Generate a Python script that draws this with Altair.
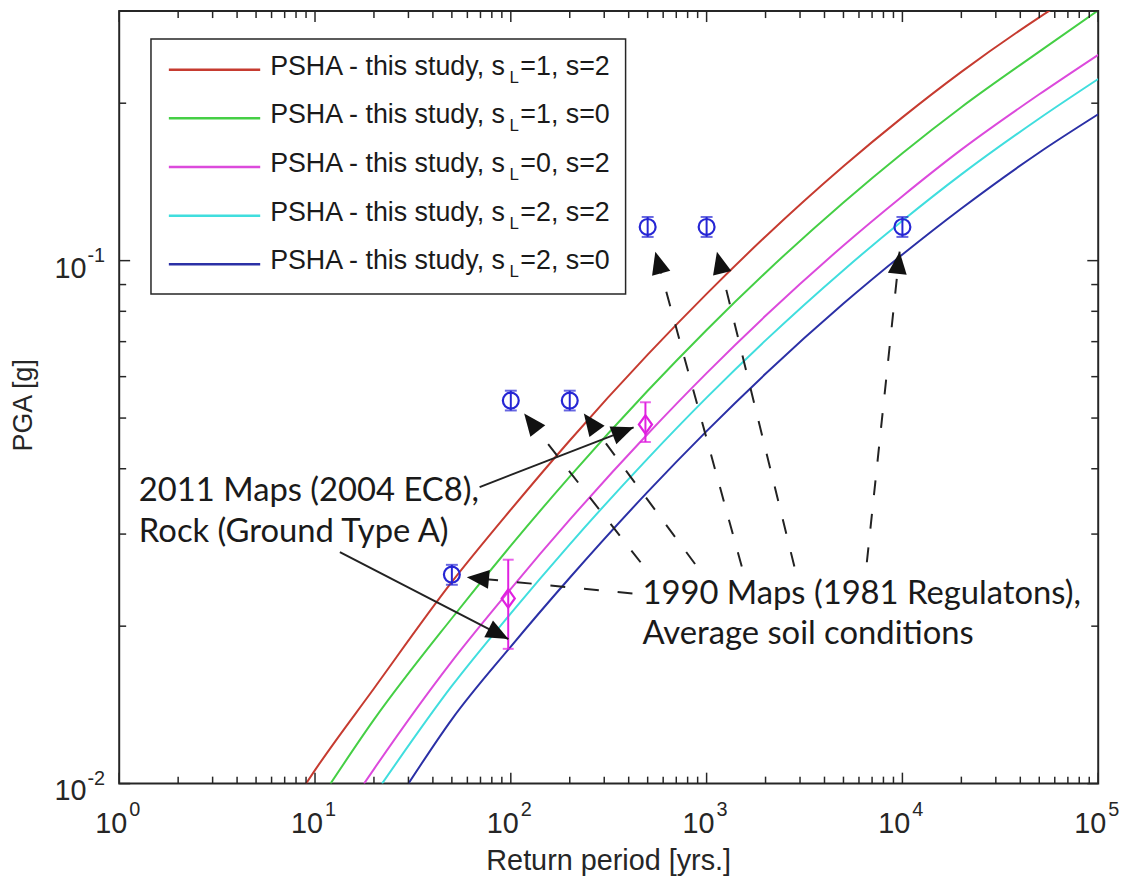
import altair as alt
import pandas as pd
import numpy as np

# ---------------- layout ----------------
W, H = 986, 778
X_DOM = [1, 1e5]
Y_DOM = [0.01, 0.3]
AX = "#262626"
BLUE_M = "#2626d4"
MAG_M = "#e020e0"
SANS = "Liberation Sans, Arial, Helvetica, sans-serif"

# ---------------- data ----------------
keys = ["r", "g", "m", "c", "b"]
colors = ["#c63b30", "#45cf45", "#dc4adc", "#40dede", "#2b30a6"]
leg_tail = ["=1, s=2", "=1, s=0", "=0, s=2", "=2, s=2", "=2, s=0"]

red_T = [9.0, 10, 20, 50, 100, 200, 500, 1000, 2000, 5000, 10000, 20000, 50000, 100000]
red_P = [0.0100, 0.01061, 0.0152, 0.0243, 0.0334, 0.0453, 0.0661, 0.0864, 0.1112, 0.1515, 0.1879, 0.2296, 0.2919, 0.3439]
green_T = [12.0, 20, 50, 100, 200, 500, 1000, 2000, 5000, 10000, 20000, 50000, 100000]
green_P = [0.0100, 0.01325, 0.02071, 0.02851, 0.03864, 0.05638, 0.0737, 0.09484, 0.1292, 0.1605, 0.1965, 0.2510, 0.3010]
mag_T = [17.8, 20, 50, 100, 200, 500, 1000, 2000, 5000, 10000, 20000, 50000, 100000]
mag_P = [0.0100, 0.01066, 0.01713, 0.02358, 0.03196, 0.04662, 0.06095, 0.07842, 0.1069, 0.1328, 0.1630, 0.2080, 0.2475]
cyan_T = [22.0, 50, 100, 200, 500, 1000, 2000, 5000, 10000, 20000, 50000, 100000]
cyan_P = [0.0100, 0.01537, 0.02116, 0.02868, 0.04183, 0.0547, 0.07039, 0.0959, 0.1192, 0.1462, 0.1870, 0.2225]
blue_T = [30.0, 50, 100, 200, 500, 1000, 2000, 5000, 10000, 20000, 50000, 100000]
blue_P = [0.0100, 0.01327, 0.01828, 0.02475, 0.03612, 0.04721, 0.06075, 0.08276, 0.1027, 0.1258, 0.1610, 0.1905]

# 1990 maps (blue circles with small error bars)
circ_T = [50, 100, 200, 500, 1000, 10000]
circ_P = [0.0251, 0.054, 0.054, 0.116, 0.116, 0.116]
circ_lo = [0.0240, 0.0517, 0.0517, 0.111, 0.111, 0.111]
circ_hi = [0.0262, 0.0564, 0.0564, 0.1212, 0.1212, 0.1212]

# 2011 maps (magenta diamonds with error bars)
dia_T = [97, 487]
dia_P = [0.0226, 0.0486]
dia_lo = [0.0181, 0.0450]
dia_hi = [0.0268, 0.0536]

# annotation arrows (start -> tip)
solid_T0 = [69.3, 13.4]
solid_P0 = [0.0369, 0.0277]
solid_T1 = [424, 97.2]
solid_P1 = [0.0480, 0.0189]

dash_T0 = [418, 460, 873, 1512, 2807, 6583]
dash_P0 = [0.0231, 0.0265, 0.0263, 0.0260, 0.0260, 0.0265]
dash_T1 = [59.6, 117, 236, 547, 1129, 9679]
dash_P1 = [0.0248, 0.0510, 0.0510, 0.104, 0.104, 0.104]

ann_text = ["2011 Maps (2004 EC8),", "Rock (Ground Type A)",
            "1990 Maps (1981 Regulatons),", "Average soil conditions"]
ann_T = [1.26, 1.26, 470, 470]
ann_P = [0.0363, 0.0303, 0.0230, 0.0193]

x_title = "Return period [yrs.]"
y_title = "PGA [g]"

x_major = [1, 10, 100, 1000, 10000, 100000]
x_exp = ["0", "1", "2", "3", "4", "5"]
x_minor = [k * 10 ** d for d in range(5) for k in range(2, 10)]
y_major = [0.01, 0.1]
y_exp = ["-2", "-1"]
y_minor = [k * 0.01 for k in range(2, 10)] + [0.2, 0.3]

# ---------------- build ----------------
xs = alt.Scale(type="log", domain=X_DOM, nice=False)
ys = alt.Scale(type="log", domain=Y_DOM, nice=False)
cs = alt.Scale(domain=keys, range=colors)


def to_px(T, P):
    x = W * (np.log10(T) - np.log10(X_DOM[0])) / (np.log10(X_DOM[1]) - np.log10(X_DOM[0]))
    y = H * (1 - (np.log10(P) - np.log10(Y_DOM[0])) / (np.log10(Y_DOM[1]) - np.log10(Y_DOM[0])))
    return x, y


def arrow_df(T0, P0, T1, P1):
    x0, y0 = to_px(np.array(T0), np.array(P0))
    x1, y1 = to_px(np.array(T1), np.array(P1))
    ang = np.degrees(np.arctan2(x1 - x0, -(y1 - y0))) % 360
    return pd.DataFrame({"T0": T0, "P0": P0, "T1": T1, "P1": P1, "ang": ang})


curve_df = pd.concat([
    pd.DataFrame({"T": t, "P": p, "key": k})
    for t, p, k in [(red_T, red_P, "r"), (green_T, green_P, "g"), (mag_T, mag_P, "m"),
                    (cyan_T, cyan_P, "c"), (blue_T, blue_P, "b")]
])

curves = alt.Chart(curve_df).mark_line(clip=True, strokeWidth=2, interpolate="monotone").encode(
    x=alt.X("T:Q", scale=xs, axis=None),
    y=alt.Y("P:Q", scale=ys, axis=None),
    color=alt.Color("key:N", scale=cs, legend=None),
)

circ_df = pd.DataFrame({"T": circ_T, "P": circ_P, "lo": circ_lo, "hi": circ_hi})
dia_df = pd.DataFrame({"T": dia_T, "P": dia_P, "lo": dia_lo, "hi": dia_hi})


def errbar_layers(df, col, shape, size, cap):
    base = alt.Chart(df)
    xe = alt.X("T:Q", scale=xs, axis=None)
    return [
        base.mark_rule(color=col, strokeWidth=2).encode(
            x=xe, y=alt.Y("lo:Q", scale=ys, axis=None), y2="hi:Q"),
        base.mark_tick(orient="horizontal", size=cap, thickness=2, color=col).encode(
            x=xe, y=alt.Y("lo:Q", scale=ys, axis=None)),
        base.mark_tick(orient="horizontal", size=cap, thickness=2, color=col).encode(
            x=xe, y=alt.Y("hi:Q", scale=ys, axis=None)),
        base.mark_point(shape=shape, size=size, filled=False, strokeWidth=2.2, color=col, opacity=1).encode(
            x=xe, y=alt.Y("P:Q", scale=ys, axis=None)),
    ]


markers = errbar_layers(circ_df, BLUE_M, "circle", 256, 12) + \
    errbar_layers(dia_df, MAG_M, "M0,-1L0.72,0L0,1L-0.72,0Z", 340, 11)

ARROW = "M0,0L-0.85,2L0.85,2Z"
solid_df = arrow_df(solid_T0, solid_P0, solid_T1, solid_P1)
dash_df = arrow_df(dash_T0, dash_P0, dash_T1, dash_P1)


def arrow_layers(df, dash):
    base = alt.Chart(df)
    kw = dict(color="#222222", strokeWidth=2)
    if dash:
        kw["strokeDash"] = [15, 19]
    line = base.mark_rule(**kw).encode(
        x=alt.X("T0:Q", scale=xs, axis=None), y=alt.Y("P0:Q", scale=ys, axis=None),
        x2="T1:Q", y2="P1:Q")
    head = base.mark_point(shape=ARROW, size=500, filled=True, color="#111111", opacity=1, strokeWidth=0).encode(
        x=alt.X("T1:Q", scale=xs, axis=None), y=alt.Y("P1:Q", scale=ys, axis=None),
        angle=alt.Angle("ang:Q", scale=None))
    return [line, head]


arrows = arrow_layers(dash_df, True) + arrow_layers(solid_df, False)

ann = alt.Chart(pd.DataFrame({"T": ann_T, "P": ann_P, "t": ann_text})).mark_text(
    align="left", baseline="middle", font="Lato", fontSize=33, color="#1a1a1a").encode(
    x=alt.X("T:Q", scale=xs, axis=None), y=alt.Y("P:Q", scale=ys, axis=None), text="t:N")


def xticks(vals, y0, y1):
    return alt.Chart(pd.DataFrame({"v": vals})).mark_rule(color=AX, strokeWidth=1.5).encode(
        x=alt.X("v:Q", scale=xs, axis=None), y=alt.value(y0), y2=alt.value(y1))


def yticks(vals, x0, x1):
    return alt.Chart(pd.DataFrame({"v": vals})).mark_rule(color=AX, strokeWidth=1.5).encode(
        y=alt.Y("v:Q", scale=ys, axis=None), x=alt.value(x0), x2=alt.value(x1))


MJ, MN = 11, 7
ticks = [
    xticks(x_major, H, H - MJ), xticks(x_minor, H, H - MN),
    xticks(x_major, 0, MJ), xticks(x_minor, 0, MN),
    yticks(y_major, 0, MJ), yticks(y_minor, 0, MN),
    yticks(y_major, W, W - MJ), yticks(y_minor, W, W - MN),
]

xl = alt.Chart(pd.DataFrame({"v": x_major, "e": x_exp}))
yl = alt.Chart(pd.DataFrame({"v": y_major, "e": y_exp}))
tick_labels = [
    xl.mark_text(text="10", align="right", baseline="middle", dx=8, font=SANS,
                 fontSize=29, color=AX).encode(x=alt.X("v:Q", scale=xs, axis=None), y=alt.value(H + 41)),
    xl.mark_text(align="left", baseline="middle", dx=10, font=SANS,
                 fontSize=20, color=AX).encode(x=alt.X("v:Q", scale=xs, axis=None), y=alt.value(H + 27), text="e:N"),
    yl.mark_text(text="10", align="right", baseline="middle", dy=8, font=SANS,
                 fontSize=29, color=AX).encode(y=alt.Y("v:Q", scale=ys, axis=None), x=alt.value(-33)),
    yl.mark_text(align="left", baseline="middle", dy=-5, font=SANS,
                 fontSize=20, color=AX).encode(y=alt.Y("v:Q", scale=ys, axis=None), x=alt.value(-32), text="e:N"),
]

one = alt.Chart(pd.DataFrame({"a": [0]}))
titles = [
    one.mark_text(text=x_title, align="center", baseline="middle", font=SANS, fontSize=29,
                  color=AX).encode(x=alt.value(W / 2), y=alt.value(H + 78)),
    one.mark_text(text=y_title, align="center", baseline="middle", font=SANS, fontSize=27,
                  color=AX, angle=270).encode(x=alt.value(-96), y=alt.value(H / 2 + 8)),
]

main = alt.layer(curves, *markers, *arrows, ann, *ticks, *tick_labels, *titles)

# ---------------- legend (manual, to allow subscript L) ----------------
lys = alt.Scale(type="point", domain=keys, range=[59, 255], padding=0)
leg_df = pd.DataFrame({"key": keys, "tail": leg_tail})
lb = alt.Chart(leg_df)
ly = alt.Y("key:N", scale=lys, axis=None)
legend = alt.layer(
    one.mark_rect(fill="white", stroke=AX, strokeWidth=1.5).encode(
        x=alt.value(32), x2=alt.value(510), y=alt.value(28), y2=alt.value(285)),
    lb.mark_rule(strokeWidth=2.5).encode(
        x=alt.value(50), x2=alt.value(142), y=ly, color=alt.Color("key:N", scale=cs, legend=None)),
    lb.mark_text(text="PSHA - this study, s", align="left", baseline="middle", dy=-3,
                 font=SANS, fontSize=27, color="#1a1a1a").encode(x=alt.value(152), y=ly),
    lb.mark_text(text="L", align="left", baseline="middle", dy=8,
                 font=SANS, fontSize=17, color="#1a1a1a").encode(x=alt.value(393), y=ly),
    lb.mark_text(align="left", baseline="middle", dy=-3,
                 font=SANS, fontSize=27, color="#1a1a1a").encode(x=alt.value(404), y=ly, text="tail:N"),
)

chart = alt.layer(main, legend).resolve_scale(y="independent").properties(
    width=W, height=H,
    padding={"left": 112, "top": 0, "right": 30, "bottom": 100},
    autosize=alt.AutoSizeParams(type="none"),
).configure_view(stroke=AX, strokeWidth=2)

chart.save("out.html", embed_options={"renderer": "svg", "actions": False})
